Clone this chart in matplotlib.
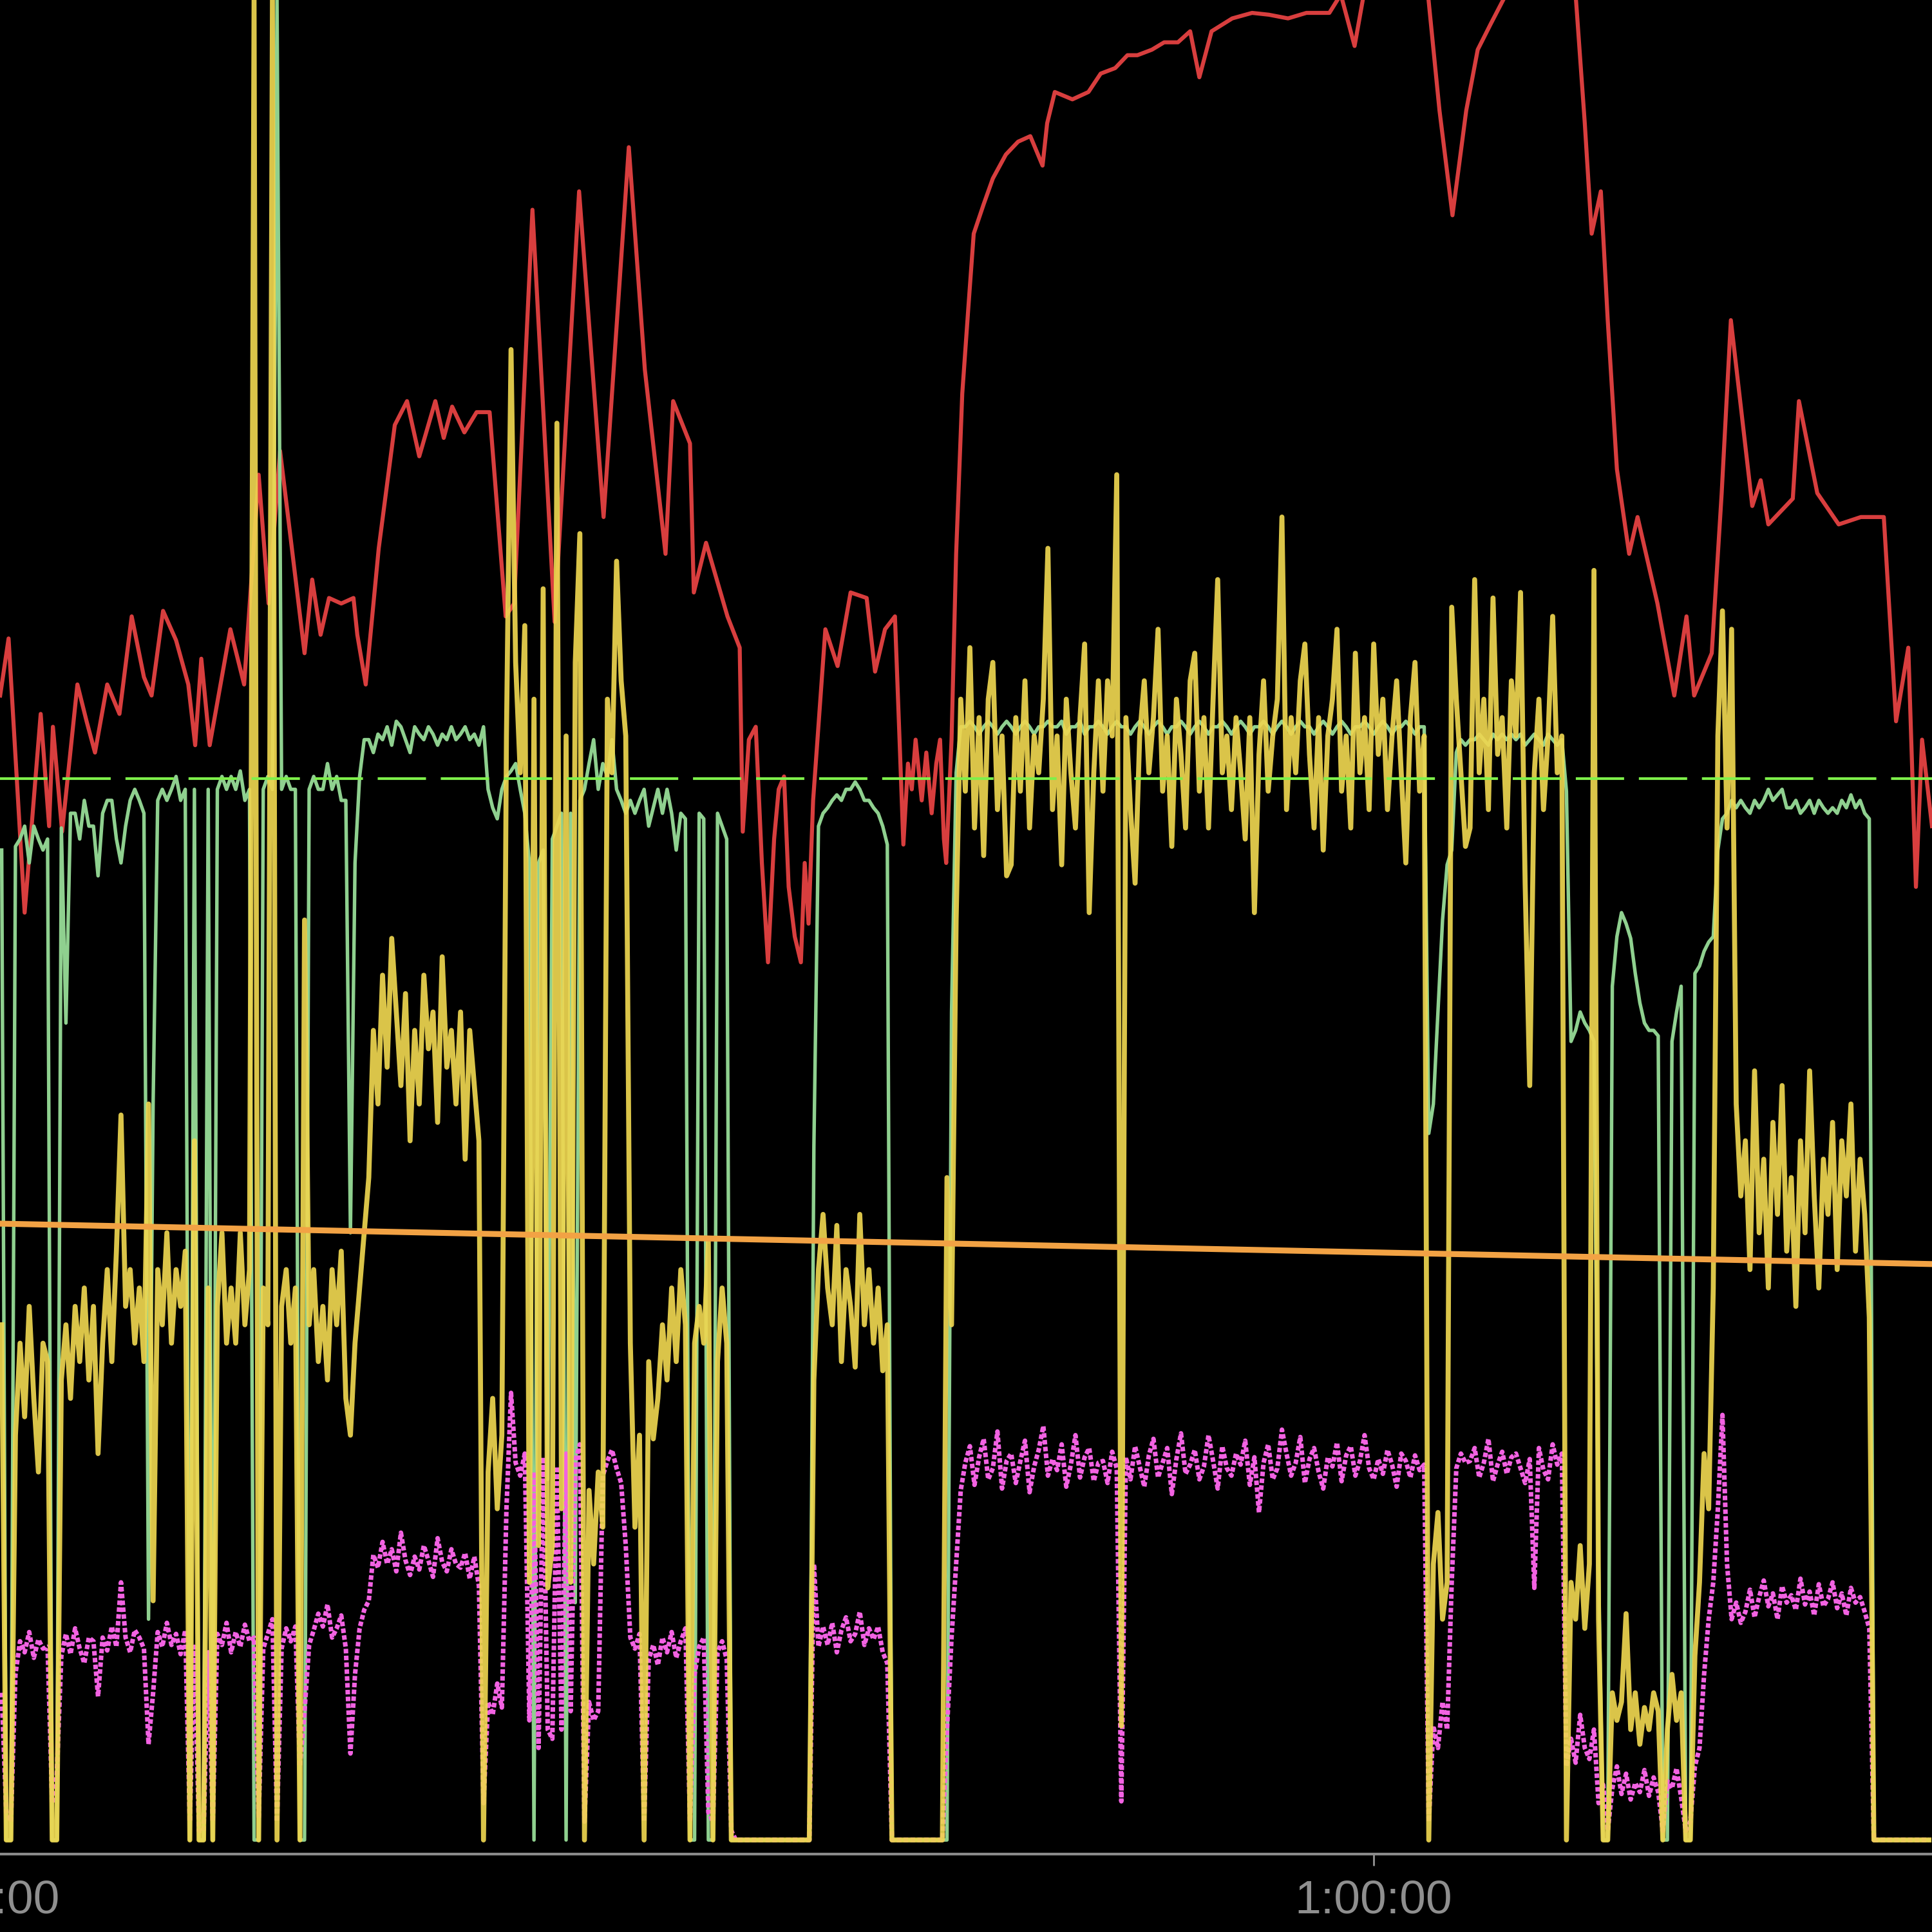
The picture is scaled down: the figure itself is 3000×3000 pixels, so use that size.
import numpy as np
import matplotlib
matplotlib.use("Agg")
import matplotlib.pyplot as plt
import matplotlib.transforms as mtransforms
from matplotlib.ticker import FuncFormatter, FixedLocator

# elapsed time (s) for the 6 s sampled channels
t_grid = np.arange(1806, 4327, 6)

# all channels are drawn on one shared scale: 0 = bottom, 100 = top of chart
cadence = [
    53.8, 0, 0, 54.0, 54.4, 55.1, 53.1, 55.1, 54.4, 53.8,
    54.4, 0, 0, 55.0, 44.4, 55.8, 55.8, 54.4, 56.5, 55.1,
    55.1, 52.4, 55.8, 56.5, 56.5, 54.4, 53.1, 55.1, 56.5, 57.1,
    56.5, 55.8, 12.0, 40.0, 56.5, 57.1, 56.5, 57.1, 57.8, 56.5,
    57.1, 0, 57.1, 0, 0, 57.1, 0, 57.1, 57.8, 57.1,
    57.8, 57.1, 58.1, 56.5, 57.1, 0, 0, 57.1, 57.8, 57.1,
    100, 57.1, 57.8, 57.1, 57.1, 0, 0, 57.1, 57.8, 57.1,
    57.1, 58.5, 57.1, 57.8, 56.5, 56.5, 33.0, 53.1, 57.8, 59.8,
    59.8, 59.1, 60.1, 59.8, 60.5, 59.5, 60.8, 60.5, 59.8, 59.1,
    60.5, 60.1, 59.8, 60.5, 60.1, 59.5, 60.1, 59.8, 60.5, 59.8,
    60.1, 60.5, 59.8, 60.1, 59.5, 60.5, 57.1, 56.1, 55.5, 57.1,
    57.8, 58.1, 58.5, 57.1, 55.8, 53.1, 0, 53.1, 53.8, 19.6,
    54.4, 55.1, 55.8, 0, 55.8, 12.9, 56.5, 57.1, 58.5, 59.8,
    57.1, 58.5, 57.8, 59.8, 57.1, 56.5, 55.8, 56.5, 55.8, 56.5,
    57.1, 55.1, 56.1, 57.1, 55.8, 57.1, 55.8, 53.8, 55.8, 55.5,
    0, 0, 55.8, 55.5, 0, 0, 55.8, 55.1, 54.4, 0,
    0, 0, 0, 0, 0, 0, 0, 0, 0, 0,
    0, 0, 0, 0, 0, 0, 0, 37.7, 55.1, 55.8,
    56.1, 56.5, 56.8, 56.5, 57.1, 57.1, 57.5, 57.1, 56.5, 56.5,
    56.1, 55.8, 55.1, 54.1, 0, 0, 0, 0, 0, 0,
    0, 0, 0, 0, 0, 0, 0, 45.0, 58.0, 60.5,
    60.5, 60.8, 60.5, 60.1, 60.5, 60.8, 60.5, 60.1, 60.5, 60.8,
    60.5, 60.1, 60.5, 60.8, 60.5, 60.1, 60.5, 60.5, 60.8, 60.5,
    60.5, 60.8, 60.1, 60.5, 60.5, 60.8, 60.1, 60.5, 60.5, 60.8,
    60.5, 60.1, 60.5, 60.8, 60.5, 60.5, 60.1, 60.5, 60.8, 60.5,
    60.1, 60.5, 60.8, 60.5, 60.1, 60.5, 60.5, 60.8, 60.5, 60.1,
    60.5, 60.8, 60.5, 60.1, 60.5, 60.5, 60.8, 60.5, 60.1, 60.5,
    60.8, 60.5, 60.1, 60.5, 60.5, 60.8, 60.5, 60.1, 60.5, 60.8,
    60.5, 60.1, 60.5, 60.8, 60.5, 60.5, 60.1, 60.5, 60.8, 60.5,
    60.1, 60.5, 60.8, 60.5, 60.1, 60.5, 60.5, 60.8, 60.5, 60.1,
    60.5, 60.8, 60.5, 60.1, 60.5, 60.5, 60.8, 60.5, 60.1, 60.5,
    60.5, 38.4, 40.0, 45.0, 50.0, 53.0, 53.8, 59.1, 59.8, 59.5,
    59.8, 59.8, 60.1, 59.8, 59.5, 60.1, 59.8, 60.1, 59.8, 60.1,
    59.8, 60.1, 59.5, 59.8, 60.1, 59.8, 59.5, 60.1, 59.8, 59.5,
    59.8, 57.0, 43.4, 44.0, 45.0, 44.4, 44.0, 43.4, 15.0, 0,
    0, 46.4, 49.1, 50.4, 49.8, 49.0, 47.1, 45.5, 44.4, 44.0,
    44.0, 43.7, 0, 0, 43.4, 45.0, 46.4, 0, 0, 47.1,
    47.5, 48.3, 48.8, 49.1, 53.8, 55.5, 55.8, 56.5, 56.1, 56.5,
    56.1, 55.8, 56.5, 56.1, 56.5, 57.1, 56.5, 56.8, 57.1, 56.1,
    56.1, 56.5, 55.8, 56.1, 56.5, 55.8, 56.5, 56.1, 55.8, 56.1,
    55.8, 56.5, 56.1, 56.8, 56.1, 56.5, 55.8, 55.5, 0, 0,
    0, 0, 0, 0, 0, 0, 0, 0, 0, 0,
    0,
]

power = [
    28, 0, 0, 22, 27, 23, 29, 24, 20, 27,
    26, 0, 0, 25, 28, 24, 29, 26, 30, 25,
    29, 21, 27, 31, 26, 32, 39.4, 29, 31, 27,
    30, 26, 40, 13, 31, 28, 33, 27, 31, 29,
    32, 0, 38, 0, 0, 30, 0, 29, 33, 27,
    30, 27, 33, 28, 31, 100, 0, 30, 28, 100,
    0, 29, 31, 27, 30, 0, 50, 28, 31, 26,
    29, 25, 31, 28, 32, 24, 22, 27, 30, 33,
    36, 44, 40, 47, 42, 49, 45, 41, 46, 38,
    44, 40, 47, 43, 45, 39, 48, 42, 44, 40,
    45, 37, 44, 41, 38, 0, 20, 24, 18, 22,
    60, 81, 64, 58, 66, 14, 62, 16, 68, 13.7,
    16, 77, 18, 60, 14, 64, 71, 0, 19, 15,
    20, 17, 62, 58, 69.5, 63, 60, 27, 17, 22,
    0, 26, 21.8, 24, 28, 25, 30, 26, 31, 28,
    0, 27, 29, 27, 32.5, 0, 26, 30, 27, 0,
    0, 0, 0, 0, 0, 0, 0, 0, 0, 0,
    0, 0, 0, 0, 0, 0, 0, 25, 31, 34,
    30, 28, 33.4, 26, 31, 29, 25.7, 34, 28, 31,
    27, 30, 25.5, 28, 0, 0, 0, 0, 0, 0,
    0, 0, 0, 0, 0, 0, 36, 28, 50, 62,
    57, 64.8, 55, 61, 53.5, 62, 64, 56, 60, 52.4,
    53, 61, 57, 63, 55, 60, 58, 62, 70.2, 56,
    60, 53, 62, 58, 55, 61, 65, 50.4, 58, 63,
    57, 63, 60, 74.2, 6.2, 61, 56, 52, 60, 63,
    58, 61, 65.8, 57, 60, 54, 62, 59, 55, 63,
    64.5, 57, 61, 55, 62, 68.5, 58, 60, 56, 61,
    58, 54.4, 61, 50.4, 59, 63, 57, 60, 62, 71.9,
    56, 61, 58, 63, 65, 59, 55, 61, 53.8, 60,
    62, 65.8, 57, 60, 55, 64.5, 58, 61, 56, 65,
    59, 62, 56, 60, 63, 58, 53.1, 61, 64, 57,
    60, 0, 15, 17.8, 12, 14, 67, 62, 58, 54,
    55, 68.5, 58, 62, 56, 67.5, 59, 61, 55, 63,
    60, 67.8, 52, 41, 58, 62, 56, 60, 66.5, 58,
    60, 0, 14, 12, 16, 11.5, 15, 69, 12, 0,
    0, 8, 6.5, 7.5, 12.3, 6, 8, 5.2, 7.2, 6,
    8, 7, 0, 6, 9, 6.5, 8, 0, 0, 10,
    14, 21, 18, 30, 60, 66.8, 55, 65.8, 40, 35,
    38, 31, 41.8, 33, 37, 30, 39, 34, 41, 32,
    36, 29, 38, 33, 41.8, 35, 30, 37, 34, 39,
    31, 38, 35, 40, 32, 37, 34, 28.4, 0, 0,
    0, 0, 0, 0, 0, 0, 0, 0, 0, 0,
    0,
]

speed = [
    8, 1.5, 1, 9, 10.8, 10.2, 11.3, 9.9, 10.9, 10.4,
    10.5, 2, 3.5, 10, 11.2, 10.1, 11.5, 10.4, 9.6, 11,
    10.8, 7.8, 11, 10.3, 11.6, 10.5, 14, 11, 10.2, 11.4,
    11, 10.4, 5.2, 8, 11.3, 10.5, 11.8, 10.6, 11.2, 10.1,
    11.4, 1, 10.5, 0.5, 0.5, 10.2, 1, 11.2, 10.6, 11.8,
    10.2, 11.3, 10.5, 11.7, 10.8, 11, 1.2, 10.4, 11.2, 12,
    1, 10.4, 11.5, 10.8, 11.6, 4, 7, 10.6, 11.4, 12.3,
    11.6, 12.8, 11, 11.5, 12.2, 10.4, 4.7, 9, 11.5, 12.5,
    13, 15.5, 14.8, 16.2, 15, 15.8, 14.6, 16.7, 15.2, 14.4,
    15.4, 14.7, 16, 15.2, 14.3, 16.4, 15.1, 14.6, 15.8, 15,
    14.8, 15.6, 14.2, 15.4, 13.8, 2, 7.5, 6.8, 8.5, 7.2,
    18, 24.3, 20.5, 19.8, 21, 6.5, 20, 5, 20.8, 6,
    5.5, 20.3, 6, 21, 7, 20.6, 21.5, 1, 7.5, 6.5,
    7, 19.8, 20.6, 21.2, 20.2, 19.4, 16, 11, 10.4, 11.2,
    1, 9.8, 10.6, 9.5, 11, 10.2, 11.3, 9.9, 10.8, 11.5,
    1, 9, 10.5, 11, 1.5, 1, 10.2, 10.8, 9.8, 0.5,
    0, 0, 0, 0, 0, 0, 0, 0, 0, 0,
    0, 0, 0, 0, 0, 0, 0, 15, 10.5, 11.6,
    10.6, 11.8, 10.2, 11.4, 12.1, 10.8, 11.2, 12.4, 10.6, 11.5,
    10.9, 11.6, 10.2, 9.6, 0, 0, 0, 0, 0, 0,
    0, 0, 0, 0, 0, 0, 6, 11, 15, 19,
    20.5, 21.4, 19.3, 20.8, 21.8, 19.6, 20.2, 22.2, 19.1, 20.6,
    21, 19.4, 20.6, 21.7, 18.9, 20.3, 21.2, 22.5, 19.8, 20.7,
    20.1, 21.5, 19.2, 20.4, 22, 19.7, 20.8, 21.3, 19.5, 20.5,
    20.6, 19.4, 21.1, 20.2, 2.1, 20.8, 19.6, 21.4, 20.3, 19.2,
    20.9, 21.8, 19.7, 20.5, 21.3, 18.8, 20.7, 22.1, 19.9, 20.4,
    21.2, 19.6, 20.3, 22, 20.6, 19.1, 21.4, 20.2, 19.8, 21,
    20.4, 21.7, 19.3, 20.8, 17.8, 20.5, 21.5, 19.6, 20.2, 22.3,
    21, 19.8, 20.5, 21.9, 19.4, 20.7, 21.3, 20, 19.1, 20.8,
    20.3, 21.6, 19.5, 20.9, 21.4, 19.8, 20.6, 22, 20.2, 19.6,
    20.7, 19.9, 21.2, 20.4, 19.2, 21, 20.6, 19.7, 20.9, 20.1,
    20.4, 1, 6.2, 5, 7.5, 6, 14, 20.2, 21, 20.5,
    20.6, 21.3, 19.7, 20.5, 21.8, 19.5, 20.4, 21.1, 19.9, 20.8,
    21, 20.2, 19.4, 20.7, 13.7, 21.3, 20.1, 19.6, 21.5, 20.4,
    21, 4, 5.5, 4.2, 6.8, 5, 4.4, 6, 2, 3,
    0.5, 2.8, 4, 2.5, 3.6, 2.2, 3.1, 2.6, 3.8, 2.4,
    3.4, 2.6, 0.5, 3.2, 2.8, 3.9, 2.3, 0.5, 1, 4,
    5, 9, 12, 14, 18, 23.1, 15, 12, 12.9, 11.8,
    12.4, 13.6, 12.1, 13.2, 14.1, 12.7, 13.4, 12, 13.8, 12.9,
    13.3, 12.5, 14.2, 12.8, 13.5, 12.2, 13.9, 12.7, 13.1, 14,
    12.6, 13.4, 12.2, 13.7, 12.9, 13.2, 12.4, 11.5, 0, 0,
    0, 0, 0, 0, 0, 0, 0, 0, 0, 0,
    0,
]

# heart rate, read at its turning points
hr_t = [1804, 1815, 1836, 1857, 1868, 1873, 1885, 1905, 1917, 1928,
        1944, 1960, 1976, 1992, 2002, 2017, 2034, 2050, 2059, 2067,
        2078, 2105, 2123, 2142, 2155, 2170, 2202, 2212, 2223, 2234,
        2250, 2266, 2271, 2282, 2299, 2320, 2336, 2352, 2373, 2384,
        2395, 2411, 2427, 2444, 2465, 2476, 2500, 2529, 2561, 2593,
        2626, 2647, 2674, 2684, 2706, 2711, 2727, 2755, 2771, 2775,
        2783, 2792, 2800, 2808, 2816, 2822, 2829, 2835, 2843, 2851,
        2856, 2861, 2867, 2883, 2899, 2916, 2937, 2948, 2961, 2974,
        2980, 2985, 2991, 2996, 3001, 3009, 3015, 3022, 3028, 3033,
        3038, 3041, 3048, 3054, 3062, 3070, 3077, 3090, 3102, 3119,
        3135, 3151, 3167, 3173, 3183, 3206, 3227, 3243, 3262, 3278,
        3291, 3310, 3326, 3344, 3360, 3372, 3388, 3415, 3441, 3463,
        3488, 3512, 3542, 3557, 3575, 3587, 3624, 3671, 3686, 3703,
        3721, 3736, 3753, 3773, 3818, 3864, 3876, 3885, 3897, 3906,
        3918, 3934, 3945, 3971, 3993, 4009, 4019, 4042, 4055, 4067,
        4095, 4106, 4116, 4148, 4156, 4180, 4208, 4237, 4267, 4283,
        4299, 4309, 4317, 4330]
hr_v = [62.2, 65.3, 50.4, 61.2, 55.1, 60.5, 54.8, 62.8, 60.8, 59.1,
        62.8, 61.2, 66.5, 63.2, 62.2, 66.8, 65.2, 62.8, 59.5, 64.2,
        59.5, 65.8, 62.8, 74.2, 67.2, 75.5, 64.5, 68.5, 65.5, 67.5,
        67.2, 67.5, 65.5, 62.8, 70.2, 76.9, 78.2, 75.2, 78.2, 76.2,
        77.9, 76.5, 77.6, 77.6, 66.5, 67.2, 88.6, 66.2, 89.6, 71.9,
        92.0, 79.9, 69.9, 78.2, 75.9, 67.8, 70.5, 66.5, 64.8, 54.8,
        59.8, 60.5, 53.1, 47.7, 54.4, 57.1, 57.8, 51.8, 49.1, 47.7,
        53.1, 49.8, 56.5, 65.8, 63.8, 67.8, 67.5, 63.5, 65.8, 66.5,
        59.8, 54.1, 58.5, 57.1, 59.8, 56.5, 59.1, 55.8, 58.5, 59.8,
        54.4, 53.1, 59.8, 69.9, 78.6, 83.3, 87.3, 88.9, 90.3, 91.6,
        92.3, 92.6, 91.0, 93.3, 95.0, 94.6, 95.0, 96.0, 96.3, 97.0,
        97.0, 97.3, 97.7, 97.7, 98.3, 95.8, 98.3, 99.0, 99.3, 99.2,
        99.0, 99.3, 99.3, 100.3, 97.5, 100.3, 100.5, 100.3, 94.0, 88.3,
        94.0, 97.3, 98.7, 100.3, 100.5, 100.3, 93.3, 87.3, 89.6, 82.6,
        74.5, 69.9, 71.9, 67.2, 62.2, 66.5, 62.2, 64.5, 73.2, 82.6,
        72.5, 73.9, 71.5, 72.9, 78.2, 73.2, 71.5, 71.9, 71.9, 60.8,
        64.8, 51.8, 59.8, 55.1]

# slowly falling balance line and the cadence target
balance_t = [1800, 4330]
balance_v = [33.5, 31.3]
cadence_target = 57.7

tick_seconds = [1800, 3600]


def fmt_time(s, pos):
    s = int(round(s))
    h, rem = divmod(s, 3600)
    m, sec = divmod(rem, 60)
    if h:
        return f"{h}:{m:02d}:{sec:02d}"
    return f"{m}:{sec:02d}"


plt.rcParams["font.family"] = ["Liberation Sans", "DejaVu Sans"]

fig = plt.figure(figsize=(10, 10), dpi=300, facecolor="black")
ax = fig.add_axes([-0.0015, 0.0403, 1.0015, 0.9597])
ax.set_facecolor("black")

ax.plot(hr_t, hr_v, color="#d83e3e", lw=1.5, zorder=2)
ax.plot(t_grid, cadence, color="#8fd08f", lw=1.3, zorder=3)
ax.plot(t_grid, speed, color="#f262e2", lw=1.7, dashes=(1.0, 0.5), zorder=4)
ax.plot(t_grid, power, color="#eed650", lw=1.85, alpha=0.92, zorder=5)
ax.plot(balance_t, balance_v, color="#f2a244", lw=2.2, zorder=6)
ax.axhline(cadence_target, color="#7ef04a", lw=1.0, dashes=(18, 5.5), zorder=7)

ax.set_xlim(1800, 4330)
ax.set_ylim(-0.77, 100)

for side in ["top", "left", "right"]:
    ax.spines[side].set_visible(False)
ax.spines["bottom"].set_color("#8a8a8a")
ax.spines["bottom"].set_linewidth(1.0)

ax.xaxis.set_major_locator(FixedLocator(tick_seconds))
ax.xaxis.set_major_formatter(FuncFormatter(fmt_time))
ax.tick_params(axis="x", colors="#8f8f8f", length=4.4, width=0.7,
               pad=5, labelsize=17.6)
ax.set_yticks([])

# the first label sits half outside the figure; nudge it a little right
fig.canvas.draw()
first = ax.xaxis.get_major_ticks()[0].label1
first.set_transform(first.get_transform()
                    + mtransforms.ScaledTranslation(1.3 / 72, 0, fig.dpi_scale_trans))

fig.savefig("out.png", dpi=300, facecolor="black")
